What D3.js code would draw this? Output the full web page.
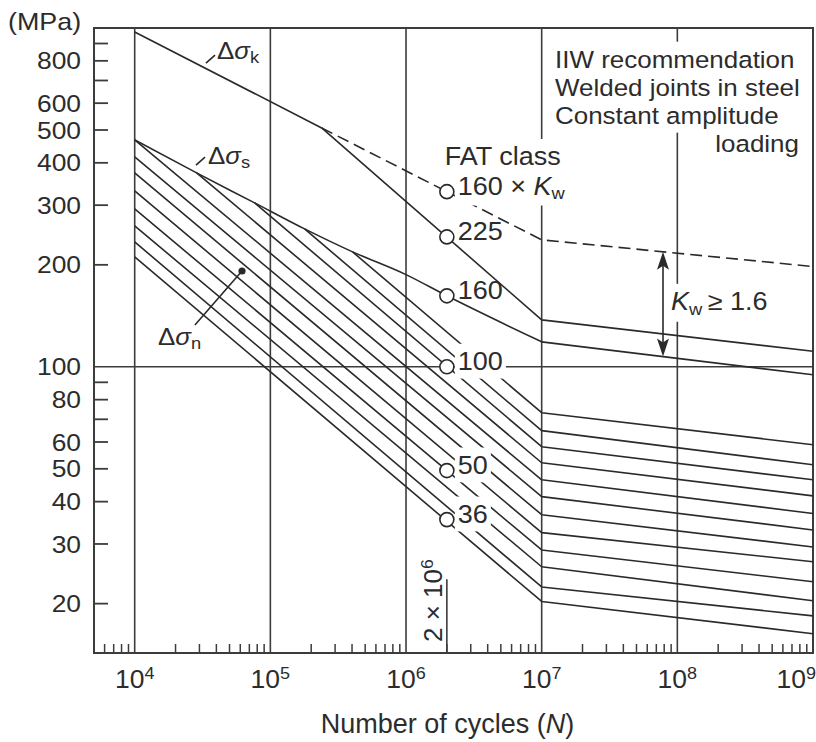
<!DOCTYPE html>
<html><head><meta charset="utf-8">
<script src="https://cdn.jsdelivr.net/npm/d3@7"></script>
<style>
body{margin:0;background:#fff}
svg{display:block}
text{font-family:"Liberation Sans",Arial,Helvetica,sans-serif;fill:#2c2c2c}
</style>
</head><body>
<svg id="c" width="816" height="742"></svg>
<script>
// ---------------- data ----------------
const xLabelDecades = [4, 5, 6, 7, 8, 9];
const xGridDecades = [4, 5, 6, 7, 8];
const yTickValues = [900, 800, 700, 600, 500, 400, 300, 200, 90, 80, 70, 60, 50, 40, 30, 20];
const yTickLabels = [800, 600, 500, 400, 300, 200, 100, 80, 60, 50, 40, 30, 20];

const kneeN = 1e7;
const endN = 1e9;
const refN = 2e6;

// FAT class lines (hatched band)
const fatClasses = [125, 112, 100, 90, 80, 71, 63, 56, 50, 45, 40, 36];
const fatStartN  = [403600, 178800, 76600, 28600, 1e4, 1e4, 1e4, 1e4, 1e4, 1e4, 1e4, 1e4];
const fatStartV  = [218.4, 255.3, 304.7, 373.5, 467.4, 416.5, 373.5, 330.5, 292.5, 260.6, 233.7, 211.1];
const fatKneeV   = [73.2, 64.8, 58.1, 52.1, 46.4, 41.4, 36.6, 32.4, 28.8, 25.7, 22.4, 20.3];
const fatEndV    = [58.9, 51.4, 46.4, 41.6, 36.9, 33.0, 29.4, 26.6, 23.2, 20.4, 18.4, 16.3];

// Δσs curve (upper bound of band, FAT 160)
const sigmaSN = [1e4, 28600, 76600, 178800, 403600, 1.0085e6, 2e6, 1e7];
const sigmaSV = [467.4, 373.5, 304.7, 255.3, 218.4, 186.8, 162, 118.5];
const sigmaSTailN = [1e7, 1e9];
const sigmaSTailV = [118.5, 94.7];

// Δσk line (FAT 225)
const sigmaKN = [1e4, 2.39e5, 1e7, 1e9];
const sigmaKV = [973, 507, 137.6, 111.1];

// 160 × Kw dashed line
const kwN = [2.39e5, 2e6, 1e7, 1e9];
const kwV = [507, 328.8, 237, 197.7];

// circles at 2×10^6
const circleValues = [328.8, 241.8, 162, 100, 49.4, 35.4];
const circleLabels = ["160 × Kw", "225", "160", "100", "50", "36"];

const noteLines = ["IIW recommendation", "Welded joints in steel", "Constant amplitude", "loading"];

// ---------------- scales ----------------
const svg = d3.select("#c");
svg.append("rect").attr("width", 816).attr("height", 742).attr("fill", "#fff");
const x = d3.scaleLog().domain([Math.pow(10, 3.7), 1e9]).range([94, 813]);
const y = d3.scaleLog().domain([14.3, 1000]).range([653, 28]);
const X0 = x.range()[0], X1 = x.range()[1], Y0 = y.range()[0], Y1 = y.range()[1];

const INK = "#2a2a2a";
const gridL = svg.append("g");
const curveL = svg.append("g");
const maskL = svg.append("g");
const textL = svg.append("g");
const dotL = svg.append("g");

function logInterp(Ns, Vs, N) {
  for (let i = 0; i < Ns.length - 1; i++) {
    if (N >= Ns[i] && N <= Ns[i + 1]) {
      const t = (Math.log10(N) - Math.log10(Ns[i])) / (Math.log10(Ns[i + 1]) - Math.log10(Ns[i]));
      return Math.pow(10, Math.log10(Vs[i]) + t * (Math.log10(Vs[i + 1]) - Math.log10(Vs[i])));
    }
  }
  return Vs[Vs.length - 1];
}

function addText(parent, px, py, parts, o = {}) {
  const g = parent.append("g")
    .attr("transform", `translate(${px},${py})${o.rotate ? ` rotate(${o.rotate})` : ""} scale(${o.sx ?? 1.08},1)`);
  const t = g.append("text").attr("text-anchor", o.anchor || "start").attr("font-size", o.size || 25);
  if (o.baseline) t.attr("dominant-baseline", o.baseline);
  let shift = 0;
  parts.forEach(p => {
    if (typeof p === "string") p = { t: p };
    const ts = t.append("tspan").text(p.t);
    const target = p.sub ? (p.dy ?? 5) : p.sup ? -(p.dy ?? 9) : 0;
    if (target - shift) ts.attr("dy", target - shift);
    shift = target;
    if (p.sub || p.sup) ts.attr("font-size", p.size || 17);
    else if (p.size) ts.attr("font-size", p.size);
    if (p.it) ts.attr("font-style", "italic");
  });
  return g;
}
function mask(g, pad = 3) {
  const r = g.node().getBoundingClientRect();
  maskL.append("rect").attr("x", r.x - pad).attr("y", r.y - pad)
    .attr("width", r.width + 2 * pad).attr("height", r.height + 2 * pad).attr("fill", "#fff");
}

// ---------------- grid & frame ----------------
xGridDecades.forEach(k => {
  gridL.append("line").attr("x1", x(Math.pow(10, k))).attr("x2", x(Math.pow(10, k)))
    .attr("y1", Y1).attr("y2", Y0).attr("stroke", "#3c3c3c").attr("stroke-width", 1.6);
});
gridL.append("line").attr("x1", X0).attr("x2", X1).attr("y1", y(100)).attr("y2", y(100))
  .attr("stroke", "#3c3c3c").attr("stroke-width", 1.6);
gridL.append("rect").attr("x", X0).attr("y", Y1).attr("width", X1 - X0).attr("height", Y0 - Y1)
  .attr("fill", "none").attr("stroke", "#3c3c3c").attr("stroke-width", 2);

// y ticks
yTickValues.forEach(v => {
  gridL.append("line").attr("x1", X0).attr("x2", X0 + 14).attr("y1", y(v)).attr("y2", y(v))
    .attr("stroke", "#3c3c3c").attr("stroke-width", 1.8);
});
// x minor ticks
for (let k = 3; k <= 8; k++) {
  for (let m = 2; m <= 9; m++) {
    const N = m * Math.pow(10, k);
    if (N < x.domain()[0] || N > x.domain()[1]) continue;
    gridL.append("line").attr("x1", x(N)).attr("x2", x(N)).attr("y1", Y0).attr("y2", Y0 - 9)
      .attr("stroke", "#3c3c3c").attr("stroke-width", 1.5);
  }
}
// 2×10^6 marker line
gridL.append("line").attr("x1", x(refN)).attr("x2", x(refN)).attr("y1", Y0).attr("y2", y(23.6))
  .attr("stroke", "#3c3c3c").attr("stroke-width", 1.6);

// ---------------- curves ----------------
const lin = d3.line().x(d => x(d[0])).y(d => y(d[1]));
const mono = d3.line().x(d => x(d[0])).y(d => y(d[1])).curve(d3.curveMonotoneX);
const cStyle = p => p.attr("fill", "none").attr("stroke", INK).attr("stroke-width", 1.6).attr("stroke-linejoin", "round");

fatClasses.forEach((f, i) => {
  curveL.append("path").datum([[fatStartN[i], fatStartV[i]], [kneeN, fatKneeV[i]], [endN, fatEndV[i]]])
    .attr("d", lin).call(cStyle);
});
curveL.append("path").datum(sigmaSN.map((n, i) => [n, sigmaSV[i]])).attr("d", mono).call(cStyle);
curveL.append("path").datum(sigmaSTailN.map((n, i) => [n, sigmaSTailV[i]])).attr("d", lin).call(cStyle);
curveL.append("path").datum(sigmaKN.map((n, i) => [n, sigmaKV[i]])).attr("d", lin).call(cStyle);
curveL.append("path").datum(kwN.map((n, i) => [n, kwV[i]])).attr("d", lin).call(cStyle)
  .attr("stroke-dasharray", "12,6");

// Kw arrow
const arrowN = 7.84e7;
const aTop = y(logInterp(kwN, kwV, arrowN));
const aBot = y(logInterp(sigmaSTailN, sigmaSTailV, arrowN));
const ax = x(arrowN);
curveL.append("line").attr("x1", ax).attr("x2", ax).attr("y1", aTop + 6).attr("y2", aBot - 6)
  .attr("stroke", INK).attr("stroke-width", 1.6);
curveL.append("path").attr("d", `M${ax},${aTop} l-6,18 l6,-4 l6,4 z`).attr("fill", INK);
curveL.append("path").attr("d", `M${ax},${aBot} l-6,-18 l6,4 l6,-4 z`).attr("fill", INK);

// leaders
const leaders = [
  [[3.35e4, 788], [3.91e4, 832]],
  [[2.83e4, 394], [3.30e4, 416]],
  [[6.18e4, 191.8], [2.78e4, 132.9]]
];
leaders.forEach(l => curveL.append("path").datum(l).attr("d", lin).call(cStyle));
dotL.append("circle").attr("cx", x(6.18e4)).attr("cy", y(191.8)).attr("r", 3.6).attr("fill", INK);

// ---------------- texts ----------------
// y labels
yTickLabels.forEach(v => {
  addText(textL, 81, y(v), [String(v)], { anchor: "end", baseline: "central", size: 24, sx: 1.1 });
});
addText(textL, 8, 30, ["(MPa)"], { size: 24, sx: 1.12 });
// x labels
xLabelDecades.forEach(k => {
  const last = k === 9;
  addText(textL, last ? 816 : x(Math.pow(10, k)), 688, ["10", { t: String(k), sup: true, dy: 9 }],
    { anchor: last ? "end" : "middle", size: 25, sx: 1.06 });
});
addText(textL, (X0 + X1) / 2 - 6, 733, ["Number of cycles (", { t: "N", it: true }, ")"],
  { anchor: "middle", size: 27, sx: 1.0 });

// Δσ labels
addText(textL, x(4.04e4), y(810), ["Δ", { t: "σ", it: true }, { t: "k", sub: true, dy: 4 }], { size: 24 });
addText(textL, x(3.47e4), y(397), ["Δ", { t: "σ", it: true }, { t: "s", sub: true, dy: 4 }], { size: 24 });
addText(textL, x(1.485e4), y(116), ["Δ", { t: "σ", it: true }, { t: "n", sub: true, dy: 4 }], { size: 24 });

// FAT class heading
mask(addText(textL, x(refN) - 2, y(394), ["FAT class"], { size: 25 }));
// circle labels
circleLabels.forEach((lab, i) => {
  const parts = lab === "160 × Kw" ? ["160 × ", { t: "K", it: true }, { t: "w", sub: true, dy: 4 }] : [lab];
  const g = addText(textL, x(refN) + 11, y(circleValues[i]) + 3, parts, { size: 25 });
  if (lab !== "225" && lab !== "160") mask(g);
});

// note block
noteLines.forEach((s, i) => {
  const last = i === noteLines.length - 1;
  const g = addText(textL, last ? 799 : 555, 68 + i * 27.9, [s], { anchor: last ? "end" : "start", size: 24.5, sx: 1.06 });
  mask(g, 4);
});

// Kw ≥ 1.6
mask(addText(textL, x(8.98e7), y(147.2), [{ t: "K", it: true }, { t: "w", sub: true, dy: 5 }, { t: "\u2009≥ 1.6", dy: 0 }], { size: 25 }));

// 2 × 10^6 rotated
addText(textL, x(refN) - 5, Y0 - 11, ["2 × 10", { t: "6", sup: true, dy: 9 }], { rotate: -90, size: 25, sx: 1.04 });

// circles
circleValues.forEach(v => {
  dotL.append("circle").attr("cx", x(refN)).attr("cy", y(v)).attr("r", 7)
    .attr("fill", "#fff").attr("stroke", INK).attr("stroke-width", 1.6);
});
</script>
</body></html>
